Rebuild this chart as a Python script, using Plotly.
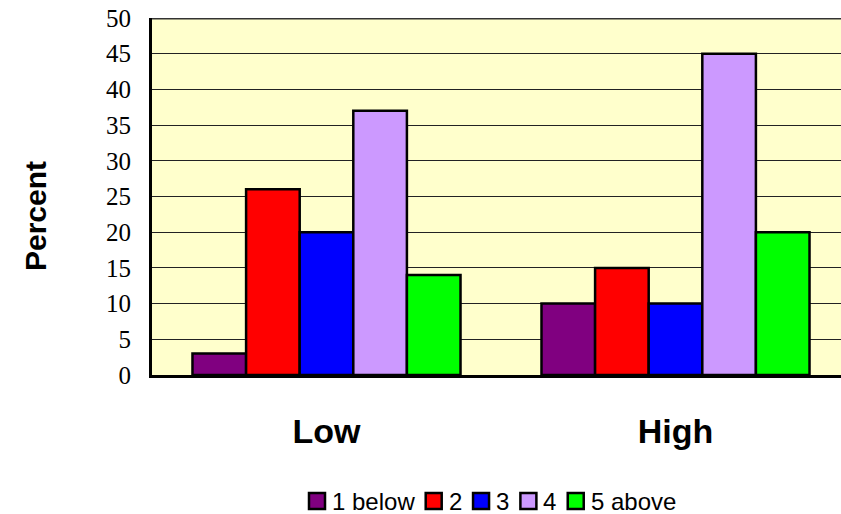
import plotly.graph_objects as go

# Share of respondents in each rating band, split by group
groups = ["Low", "High"]
series_names = ["1 below", "2", "3", "4", "5 above"]
series_values = [
    [3, 10],   # 1 below
    [26, 15],  # 2
    [20, 10],  # 3
    [37, 45],  # 4
    [14, 20],  # 5 above
]
series_colors = ["#800080", "#FF0000", "#0000FF", "#CC99FF", "#00FF00"]
y_ticks = [0, 5, 10, 15, 20, 25, 30, 35, 40, 45, 50]

W, H = 841, 514
ML, MR, MT, MB = 152, 0, 18, 139
plot_w = W - ML - MR
plot_h = H - MT - MB


def px_x(px):
    """Pixel column -> paper x."""
    return (px - ML) / plot_w


def px_y(py):
    """Pixel row -> paper y."""
    return (H - MB - py) / plot_h


# Approximate Arial advance widths (em) for laying out the key row
ARIAL_W = {" ": 0.278, "a": 0.556, "b": 0.556, "e": 0.556, "l": 0.222,
           "o": 0.556, "v": 0.5, "w": 0.722}


def text_width(s, size):
    return sum(ARIAL_W.get(c, 0.556) for c in s) * size


fig = go.Figure()
for name, vals, color in zip(series_names, series_values, series_colors):
    fig.add_trace(go.Bar(
        x=groups, y=vals, name=name,
        marker=dict(color=color, line=dict(color="black", width=2.5)),
    ))

shapes = [
    dict(type="line", xref="paper", yref="y", x0=0, x1=1, y0=50, y1=50,
         line=dict(color="#333333", width=3)),
]
annotations = [
    dict(text="<b>Percent</b>", xref="paper", yref="paper",
         x=px_x(35), y=px_y(216), xanchor="center", yanchor="middle",
         textangle=-90, showarrow=False,
         font=dict(family="Liberation Sans, Arial", size=30, color="black")),
]

# Key row below the plot: outlined colour swatch followed by its label
key_font = 24
sw = 16
cx = 309
cy = 501
for name, color in zip(series_names, series_colors):
    shapes.append(dict(
        type="rect", xref="paper", yref="paper",
        x0=px_x(cx), x1=px_x(cx + sw), y0=px_y(cy + sw / 2), y1=px_y(cy - sw / 2),
        fillcolor=color, line=dict(color="black", width=2.5),
    ))
    tx = cx + sw + 6
    annotations.append(dict(
        text=name, xref="paper", yref="paper",
        x=px_x(tx), y=px_y(cy), xanchor="left", yanchor="middle",
        showarrow=False, borderpad=0,
        font=dict(family="Liberation Sans, Arial", size=key_font, color="black"),
    ))
    cx = tx + text_width(name, key_font) + 12

fig.update_layout(
    width=W, height=H,
    margin=dict(l=ML, r=MR, t=MT, b=MB),
    paper_bgcolor="white",
    plot_bgcolor="#FFFFCC",
    barmode="group",
    bargap=0.232,
    bargroupgap=0,
    showlegend=False,
    xaxis=dict(
        type="category",
        range=[-0.5, 1.4742],
        showgrid=False,
        showline=True, linecolor="black", linewidth=3,
        ticks="",
        tickfont=dict(family="Liberation Sans, Arial", size=34, color="black", weight="bold"),
        ticklabelstandoff=24,
    ),
    yaxis=dict(
        range=[0, 50],
        tickvals=y_ticks,
        showgrid=True, gridcolor="#222222", gridwidth=1,
        showline=True, linecolor="black", linewidth=3,
        ticks="",
        tickfont=dict(family="Liberation Serif, Times New Roman", size=25, color="black"),
        ticklabelstandoff=13,
        zeroline=False,
    ),
    shapes=shapes,
    annotations=annotations,
)

fig.write_html("out.html")
